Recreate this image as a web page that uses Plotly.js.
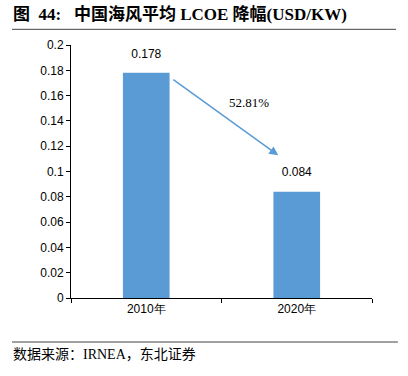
<!DOCTYPE html>
<html><head><meta charset="utf-8">
<script src="https://cdn.plot.ly/plotly-3.0.1.min.js"></script>
<style>body{margin:0;background:#fff}#c{width:408px;height:376px}</style>
</head><body><div id="c"></div>
<script>
const categories = ["2010年", "2020年"];
const lcoe = [0.178, 0.084];
const labels = ["0.178", "0.084"];
const declineText = "52.81%";
const yTicks = [0, 0.02, 0.04, 0.06, 0.08, 0.1, 0.12, 0.14, 0.16, 0.18, 0.2];
const yTickText = ["0", "0.02", "0.04", "0.06", "0.08", "0.1", "0.12", "0.14", "0.16", "0.18", "0.2"];

const tickFont = {family: "Liberation Sans, Arial, sans-serif", size: 12, color: "#000"};
const bars = {
  type: "bar", x: categories, y: lcoe,
  marker: {color: "#5B9BD5"}, hoverinfo: "none"
};
const valueLabels = {
  type: "scatter", mode: "markers+text", x: categories, y: lcoe, text: labels,
  textposition: "top center", textfont: tickFont, cliponaxis: false,
  marker: {size: 18, opacity: 0}, hoverinfo: "none"
};
const layout = {
  width: 408, height: 376,
  margin: {l: 71, r: 36, t: 45, b: 78},
  paper_bgcolor: "#fff", plot_bgcolor: "#fff",
  showlegend: false, bargap: 0.69,
  xaxis: {
    type: "category", showline: true, linecolor: "#000", linewidth: 1,
    ticks: "outside", tickson: "boundaries", ticklen: 4, tickcolor: "#000",
    tickfont: tickFont, showgrid: false, zeroline: false
  },
  yaxis: {
    range: [0, 0.2], tickvals: yTicks, ticktext: yTickText,
    showline: true, linecolor: "#000", linewidth: 1,
    ticks: "outside", ticklen: 4, tickcolor: "#000",
    tickfont: tickFont, showgrid: false, zeroline: false
  },
  annotations: [
    {text: "<b>图&nbsp;&nbsp;44:&nbsp;&nbsp;&nbsp;中国海风平均 LCOE 降幅(USD/KW)</b>", xref: "paper", yref: "paper",
     x: -0.2, y: 1.075, xanchor: "left", yanchor: "bottom", showarrow: false,
     font: {family: "Liberation Serif, Noto Sans CJK SC, serif", size: 17, color: "#000"}},
    {text: "数据来源：IRNEA，东北证券", xref: "paper", yref: "paper",
     x: -0.2, y: -0.185, xanchor: "left", yanchor: "top", showarrow: false,
     font: {family: "Liberation Serif, Noto Sans CJK SC, serif", size: 14, color: "#000"}},
    {text: "", x: 0.877, y: 0.1128, ax: 0.17, ay: 0.1734, axref: "x", ayref: "y",
     xref: "x", yref: "y", showarrow: true, arrowhead: 2, arrowsize: 1.2, arrowwidth: 1.5,
     arrowcolor: "#5B9BD5"},
    {text: declineText, x: 0.685, y: 0.1547, xref: "x", yref: "y", showarrow: false,
     font: {family: "Liberation Serif, Times New Roman, serif", size: 13, color: "#000"}}
  ],
  shapes: [
    {type: "line", xref: "paper", yref: "paper", x0: -0.196, x1: 1.08, y0: 1.062, y1: 1.062,
     line: {color: "#444", width: 1}},
    {type: "line", xref: "paper", yref: "paper", x0: -0.196, x1: 1.086, y0: -0.174, y1: -0.174,
     line: {color: "#444", width: 1}}
  ]
};
Plotly.newPlot("c", [bars, valueLabels], layout, {displayModeBar: false, staticPlot: true});
</script></body></html>
